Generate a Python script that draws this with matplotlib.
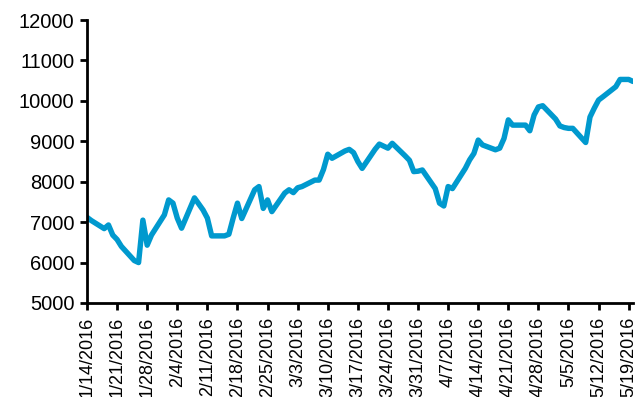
import pandas as pd
import matplotlib
matplotlib.use("Agg")
import matplotlib.pyplot as plt

# daily closing level, trading days only
dates = [
    "2016-01-14", "2016-01-15", "2016-01-18", "2016-01-19", "2016-01-20", "2016-01-21", "2016-01-22",
    "2016-01-25", "2016-01-26", "2016-01-27", "2016-01-28", "2016-01-29",
    "2016-02-01", "2016-02-02", "2016-02-03", "2016-02-04", "2016-02-05",
    "2016-02-08", "2016-02-09", "2016-02-10", "2016-02-11", "2016-02-12",
    "2016-02-15", "2016-02-16", "2016-02-17", "2016-02-18", "2016-02-19",
    "2016-02-22", "2016-02-23", "2016-02-24", "2016-02-25", "2016-02-26",
    "2016-02-29", "2016-03-01", "2016-03-02", "2016-03-03", "2016-03-04",
    "2016-03-07", "2016-03-08", "2016-03-09", "2016-03-10", "2016-03-11",
    "2016-03-14", "2016-03-15", "2016-03-16", "2016-03-17", "2016-03-18",
    "2016-03-21", "2016-03-22", "2016-03-23", "2016-03-24", "2016-03-25",
    "2016-03-28", "2016-03-29", "2016-03-30", "2016-03-31", "2016-04-01",
    "2016-04-04", "2016-04-05", "2016-04-06", "2016-04-07", "2016-04-08",
    "2016-04-11", "2016-04-12", "2016-04-13", "2016-04-14", "2016-04-15",
    "2016-04-18", "2016-04-19", "2016-04-20", "2016-04-21", "2016-04-22",
    "2016-04-25", "2016-04-26", "2016-04-27", "2016-04-28", "2016-04-29",
    "2016-05-02", "2016-05-03", "2016-05-04", "2016-05-05", "2016-05-06",
    "2016-05-09", "2016-05-10", "2016-05-11", "2016-05-12", "2016-05-13",
    "2016-05-16", "2016-05-17", "2016-05-18", "2016-05-19", "2016-05-20",
]
values = [
    7120, 7040, 6840, 6930, 6680, 6570, 6400,
    6050, 6000, 7050, 6430, 6680,
    7180, 7550, 7470, 7100, 6850,
    7600, 7450, 7300, 7100, 6660,
    6660, 6700, 7100, 7470, 7090,
    7800, 7880, 7340, 7550, 7260,
    7720, 7800, 7730, 7850, 7880,
    8040, 8040, 8300, 8680, 8580,
    8760, 8800, 8720, 8500, 8330,
    8800, 8930, 8880, 8830, 8950,
    8640, 8530, 8250, 8260, 8290,
    7830, 7470, 7400, 7880, 7830,
    8330, 8540, 8700, 9030, 8910,
    8790, 8830, 9070, 9530, 9400,
    9400, 9260, 9650, 9850, 9880,
    9550, 9380, 9340, 9320, 9320,
    8970, 9600, 9820, 10020, 10100,
    10350, 10530, 10530, 10530, 10480,
]
y_ticks = [5000, 6000, 7000, 8000, 9000, 10000, 11000, 12000]

plt.rcParams["font.family"] = ["Liberation Sans", "DejaVu Sans"]

x = pd.to_datetime(dates)
fig = plt.figure(figsize=(6.41, 3.97), dpi=100)
ax = fig.add_axes([0.1357, 0.2368, 0.8518, 0.7128])

ax.plot(x, values, color="#0099CE", lw=3.9, solid_joinstyle="round", solid_capstyle="round")

ax.set_ylim(5000, 12000)
ax.set_yticks(y_ticks)
ax.set_xlim(pd.Timestamp("2016-01-14"), pd.Timestamp("2016-05-20"))
week_ticks = pd.date_range("2016-01-14", "2016-05-19", freq="7D")
ax.set_xticks(week_ticks)
ax.set_xticklabels([f"{d.month}/{d.day}/{d.year}" for d in week_ticks], rotation=90)

for side in ("top", "right"):
    ax.spines[side].set_visible(False)
for side in ("left", "bottom"):
    ax.spines[side].set_linewidth(2)
ax.tick_params(axis="both", direction="out", length=5, width=2, colors="black")
ax.tick_params(axis="y", labelsize=14.5, pad=4)
ax.tick_params(axis="x", labelsize=13, pad=5)

fig.savefig("out.png", dpi=100)
